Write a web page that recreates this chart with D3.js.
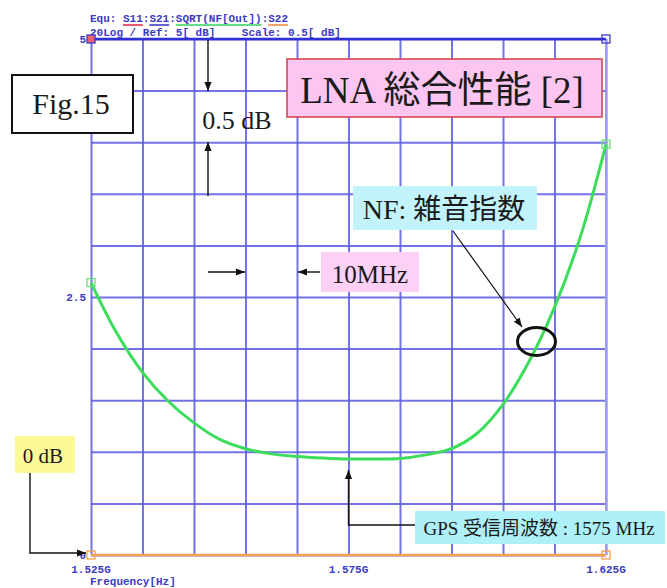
<!DOCTYPE html>
<html>
<head>
<meta charset="utf-8">
<script src="https://cdn.jsdelivr.net/npm/d3@7"></script>
<style>
  html, body { margin: 0; padding: 0; background: #fff; }
  svg { display: block; }
  .mono { font-family: "Liberation Mono", "DejaVu Sans Mono", monospace; font-weight: bold; font-size: 11px; fill: #3b3bc4; white-space: pre; }
  .serif { font-family: "Liberation Serif", "Noto Sans CJK JP", serif; fill: #1a1a1a; }
</style>
</head>
<body>
<svg id="chart" width="667" height="588"></svg>
<script>
// Noise figure of the LNA versus frequency (MHz), in dB
const freqMHz = [1525, 1530, 1535, 1540, 1545, 1550, 1555, 1560, 1565, 1570, 1575,
                 1580, 1585, 1590, 1595, 1600, 1605, 1610, 1615, 1620, 1625];
const nfDb    = [2.64, 2.15, 1.77, 1.49, 1.28, 1.12, 1.03, 0.98, 0.955, 0.94, 0.93,
                 0.93, 0.935, 0.97, 1.03, 1.18, 1.46, 1.87, 2.40, 3.08, 3.98];

// Reference trace at 0 dB
const refFreq = [1525, 1625];
const refDb   = [0, 0];

// Axis ticks and labels
const xTickValues = [1525, 1575, 1625];
const xTickLabels = ["1.525G", "1.575G", "1.625G"];
const yTickValues = [0, 2.5, 5];
const yTickLabels = ["0", "2.5", "5"];
const xGridValues = d3.range(1525, 1626, 10);
const yGridValues = d3.range(0, 5.01, 0.5);

const headerLine1 = "Equ: S11:S21:SQRT(NF[Out]):S22";
const headerLine2 = "20Log / Ref: 5[ dB]    Scale: 0.5[ dB]";
const xAxisTitle = "Frequency[Hz]";

const svg = d3.select("#chart");
const x = d3.scaleLinear().domain([1525, 1625]).range([91, 606]);
const y = d3.scaleLinear().domain([0, 5]).range([555, 39]);

// Grid
const gridColor = "#5a5ae2";
svg.append("g")
  .attr("transform", `translate(0,${y(0)})`)
  .call(d3.axisBottom(x).tickValues(xGridValues).tickSize(-(y(0) - y(5))).tickFormat(""))
  .call(g => g.select(".domain").remove())
  .call(g => g.selectAll(".tick line").attr("stroke", gridColor).attr("stroke-width", 2).attr("stroke-opacity", 0.85));

svg.append("g")
  .attr("transform", `translate(${x(1525)},0)`)
  .call(d3.axisLeft(y).tickValues(yGridValues).tickSize(-(x(1625) - x(1525))).tickFormat(""))
  .call(g => g.select(".domain").remove())
  .call(g => g.selectAll(".tick line").attr("stroke", gridColor).attr("stroke-width", 2).attr("stroke-opacity", 0.85));

// Right edge in lighter blue, top edge heavier
svg.append("line").attr("x1", x(1625)).attr("x2", x(1625)).attr("y1", y(5)).attr("y2", y(0))
  .attr("stroke", "#9a9af0").attr("stroke-width", 2);
svg.append("line").attr("x1", x(1525)).attr("x2", x(1625)).attr("y1", y(5)).attr("y2", y(5))
  .attr("stroke", "#2f2fd8").attr("stroke-width", 2.6);

// Header
const header = svg.append("g");
header.append("text").attr("class", "mono").attr("x", 90).attr("y", 22).text(headerLine1);
header.append("text").attr("class", "mono").attr("x", 90).attr("y", 36).text(headerLine2);
const cw = 6.6;
[[5, 3, "#e03050"], [9, 3, "#3b3bc4"], [13, 13, "#30d060"], [27, 3, "#f09040"]].forEach(([i, n, c]) => {
  header.append("line").attr("x1", 90 + i * cw).attr("x2", 90 + (i + n) * cw)
    .attr("y1", 25).attr("y2", 25).attr("stroke", c).attr("stroke-width", 1.6);
});

// Axis tick labels
svg.append("g").selectAll("text").data(xTickValues).join("text")
  .attr("class", "mono").attr("x", d => x(d)).attr("y", 573).attr("text-anchor", "middle")
  .text((d, i) => xTickLabels[i]);
svg.append("g").selectAll("text").data(yTickValues).join("text")
  .attr("class", "mono").attr("x", 86).attr("y", d => y(d) + 4).attr("text-anchor", "end")
  .text((d, i) => yTickLabels[i]);
svg.append("text").attr("class", "mono").attr("x", 90).attr("y", 585).text(xAxisTitle);

// Traces
svg.append("path")
  .datum(refFreq.map((f, i) => [f, refDb[i]]))
  .attr("fill", "none").attr("stroke", "#f7a050").attr("stroke-width", 2.6)
  .attr("d", d3.line().x(d => x(d[0])).y(d => y(d[1])));

svg.append("path")
  .datum(freqMHz.map((f, i) => [f, nfDb[i]]))
  .attr("fill", "none").attr("stroke", "#3ddc5a").attr("stroke-width", 3)
  .attr("d", d3.line().curve(d3.curveCatmullRom).x(d => x(d[0])).y(d => y(d[1])));

// Trace end markers
function marker(cx, cy, stroke, fill) {
  svg.append("rect").attr("x", cx - 4).attr("y", cy - 4).attr("width", 8).attr("height", 8)
    .attr("fill", fill).attr("stroke", stroke).attr("stroke-width", 1.3);
}
marker(x(freqMHz[0]), y(nfDb[0]), "#6ae07a", "none");
marker(x(freqMHz[freqMHz.length - 1]), y(nfDb[nfDb.length - 1]), "#6ae07a", "none");
marker(x(refFreq[0]), y(refDb[0]), "#f7a050", "none");
marker(x(refFreq[1]), y(refDb[1]), "#f7a050", "none");
marker(x(1525), y(5), "#3b3bc4", "#f06070");
marker(x(1625), y(5), "#3b3bc4", "none");

// Arrow heads
const defs = svg.append("defs");
defs.append("marker").attr("id", "arrow").attr("viewBox", "0 0 10 10")
  .attr("refX", 10).attr("refY", 5).attr("markerWidth", 9).attr("markerHeight", 9)
  .attr("markerUnits", "userSpaceOnUse").attr("orient", "auto")
  .append("path").attr("d", "M0,1 L10,5 L0,9 Z").attr("fill", "#111");

function arrow(points, width) {
  svg.append("path").attr("d", d3.line()(points)).attr("fill", "none")
    .attr("stroke", "#111").attr("stroke-width", width || 1.4).attr("marker-end", "url(#arrow)");
}
function box(x0, y0, w, h, fill, stroke, sw) {
  svg.append("rect").attr("x", x0).attr("y", y0).attr("width", w).attr("height", h)
    .attr("fill", fill).attr("stroke", stroke || "none").attr("stroke-width", stroke ? (sw || 1.6) : 0);
}
function label(tx, ty, size, str, anchor) {
  svg.append("text").attr("class", "serif").attr("x", tx).attr("y", ty)
    .attr("font-size", size).attr("text-anchor", anchor || "middle").text(str);
}

// Figure number
box(12, 75, 121, 58, "#fff", "#111", 2);
label(71, 114, 30, "Fig.15");

// Title
box(287, 59, 315, 58, "#fdc6f0", "#d04858");
label(442, 103, 37, "LNA 総合性能 [2]");

// Vertical division
arrow([[208, 40], [208, 91]]);
arrow([[208, 196], [208, 142]]);
label(237, 129, 26, "0.5 dB");

// Horizontal division
arrow([[208, 272], [245, 272]]);
arrow([[320, 272], [298, 272]]);
box(321, 252, 98, 40, "#ffd0f6");
label(370, 283, 25, "10MHz");

// Noise figure callout
box(353, 186, 184, 44, "#c2f3fa");
label(444, 219, 28, "NF: 雑音指数");
arrow([[453, 231], [522, 327]], 1.2);
svg.append("ellipse").attr("cx", 536.5).attr("cy", 341.5).attr("rx", 19).attr("ry", 14)
  .attr("fill", "none").attr("stroke", "#111").attr("stroke-width", 3);

// GPS frequency callout
box(415, 511, 250, 33, "#aef0f8");
label(539, 535, 19, "GPS 受信周波数 : 1575 MHz");
arrow([[415, 525], [x(1575), 525], [x(1575), 470]]);

// 0 dB callout
box(15, 436, 60, 37, "#fbfa96");
label(43, 463, 21, "0 dB");
arrow([[30, 473], [30, 553], [86, 553]]);
</script>
</body>
</html>
